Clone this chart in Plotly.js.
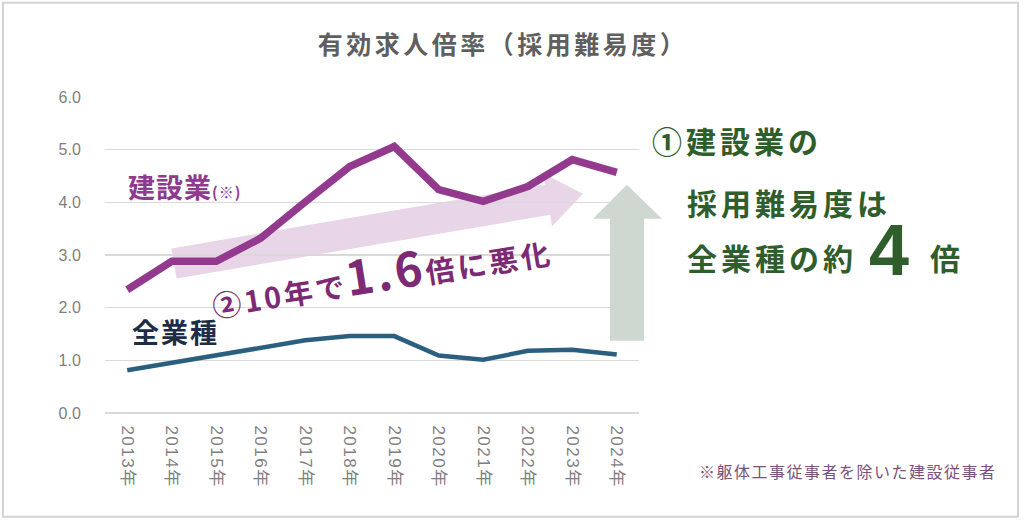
<!DOCTYPE html>
<html>
<head>
<meta charset="utf-8">
<script src="https://cdn.plot.ly/plotly-3.0.1.min.js"></script>
<style>
  html, body { margin: 0; padding: 0; background: #fff; }
  #chart { width: 1024px; height: 523px; }
</style>
</head>
<body>
<div id="chart"></div>
<script>
// ---- data ----
const years = ['2013年','2014年','2015年','2016年','2017年','2018年','2019年','2020年','2021年','2022年','2023年','2024年'];
const construction = [2.34, 2.88, 2.88, 3.32, 4.01, 4.68, 5.06, 4.24, 4.02, 4.30, 4.81, 4.57];
const allIndustries = [0.81, 0.95, 1.09, 1.23, 1.38, 1.46, 1.46, 1.09, 1.01, 1.18, 1.20, 1.11];
const yTicks = [0, 1, 2, 3, 4, 5, 6];

const titleText = '有効求人倍率（採用難易度）';
const constructionLabel = '建設業<span style="font-size:15px">(※)</span>';
const allLabel = '全業種';
const trendText = '②10年で<span style="font-size:47px">1.6</span>倍に悪化';
const msgLine1 = '①建設業の';
const msgLine2 = '採用難易度は';
const msgLine3 = '全業種の約';
const msgBig = '4';
const msgEnd = '倍';
const footnote = '※躯体工事従事者を除いた建設従事者';

// ---- layout geometry (pixels) ----
const W = 1024, H = 523;
const L = 105, R = 639, T = 97.3, B = 413.3;
const fx = x => (x - L) / (R - L);
const fy = y => (B - y) / (B - T);
const pts = arr => arr.map(p => fx(p[0]).toFixed(5) + ',' + fy(p[1]).toFixed(5));
const pathOf = arr => 'M' + pts(arr).join(' L') + ' Z';

// pink trend arrow (rotated)
function trendArrow() {
  const x0 = 174, y0 = 263.8, x1 = 583, y1 = 194;
  const dx = x1 - x0, dy = y1 - y0, len = Math.hypot(dx, dy);
  const u = [dx / len, dy / len], n = [-u[1], u[0]];
  const bw = 15.3, hw = 27, hl = 36;
  const P = (s, t) => [x0 + u[0] * s + n[0] * t, y0 + u[1] * s + n[1] * t];
  return pathOf([P(0, -bw), P(len - hl, -bw), P(len - hl, -hw), P(len, 0), P(len - hl, hw), P(len - hl, bw), P(0, bw)]);
}
function upArrow() {
  return pathOf([[610, 341], [610, 219], [593, 219], [627, 185], [662, 219], [644, 219], [644, 341]]);
}

const traces = [
  { x: years, y: construction, type: 'scatter', mode: 'lines',
    line: { color: '#933A8E', width: 7.5 }, hoverinfo: 'skip' },
  { x: years, y: allIndustries, type: 'scatter', mode: 'lines',
    line: { color: '#2B5F80', width: 4.5 }, hoverinfo: 'skip' }
];

const jp = '"Noto Sans CJK JP", "Noto Sans", sans-serif';
const num = '"Liberation Sans", "Noto Sans CJK JP", sans-serif';

const annotations = [
  { text: constructionLabel, x: fx(126), y: fy(187), xanchor: 'left', yanchor: 'middle', align: 'left',
    font: { family: jp, size: 27, color: '#8E3A8E', weight: 'bold' }, ls: 1 },
  { text: allLabel, x: fx(130), y: fy(332), xanchor: 'left', yanchor: 'middle', align: 'left',
    font: { family: jp, size: 27, color: '#1E2D46', weight: 'bold' }, ls: 2 },
  { text: trendText, x: fx(381), y: fy(271), xanchor: 'center', yanchor: 'middle', textangle: -9,
    font: { family: jp, size: 29, color: '#7B2A73', weight: 'bold' }, ls: 3 },
  { text: msgLine1, x: fx(650), y: fy(140), xanchor: 'left', yanchor: 'middle', align: 'left',
    font: { family: jp, size: 30, color: '#2F5D2B', weight: 'bold' }, ls: 4 },
  { text: msgLine2, x: fx(685), y: fy(202), xanchor: 'left', yanchor: 'middle', align: 'left',
    font: { family: jp, size: 30, color: '#2F5D2B', weight: 'bold' }, ls: 4 },
  { text: msgLine3, x: fx(685), y: fy(257), xanchor: 'left', yanchor: 'middle', align: 'left',
    font: { family: jp, size: 30, color: '#2F5D2B', weight: 'bold' }, ls: 4 },
  { text: msgBig, x: fx(889), y: fy(250), xanchor: 'center', yanchor: 'middle',
    font: { family: num, size: 72, color: '#2F5D2B', weight: 'bold' }, ls: 0 },
  { text: msgEnd, x: fx(945), y: fy(257), xanchor: 'center', yanchor: 'middle',
    font: { family: jp, size: 30, color: '#2F5D2B', weight: 'bold' }, ls: 0 },
  { text: footnote, x: fx(697), y: fy(471), xanchor: 'left', yanchor: 'middle', align: 'left',
    font: { family: jp, size: 16, color: '#7A527A' }, ls: 1.5 }
];
const spacings = annotations.map(a => a.ls);
annotations.forEach(a => { delete a.ls; a.xref = 'paper'; a.yref = 'paper'; a.showarrow = false; });

const layout = {
  width: W, height: H,
  margin: { l: L, r: W - R, t: T, b: H - B, pad: 0 },
  paper_bgcolor: '#ffffff', plot_bgcolor: '#ffffff',
  showlegend: false,
  title: { text: titleText, x: 503 / W, xanchor: 'center', xref: 'container', y: 1 - 45 / H, yanchor: 'middle', yref: 'container',
           font: { family: jp, size: 25, color: '#5F5F5F', weight: 'bold' } },
  xaxis: { type: 'category', range: [-0.5, years.length - 0.5], tickangle: 90, showgrid: false, showline: false, zeroline: false,
           ticks: 'outside', ticklen: 8, tickcolor: 'rgba(0,0,0,0)',
           tickfont: { family: num, size: 17, color: '#7F7F7F' }, fixedrange: true },
  yaxis: { range: [0, 6], tickvals: yTicks, tickformat: '.1f', showgrid: true, gridcolor: '#D9D9D9', gridwidth: 1.5,
           zeroline: true, zerolinecolor: '#D9D9D9', zerolinewidth: 1.5, showline: false,
           ticks: 'outside', ticklen: 20, tickcolor: 'rgba(0,0,0,0)',
           tickfont: { family: num, size: 16, color: '#7F7F7F' }, fixedrange: true },
  shapes: [
    { type: 'path', path: trendArrow(), xref: 'paper', yref: 'paper', layer: 'below',
      fillcolor: '#E8D5E8', line: { width: 0 } },
    { type: 'path', path: upArrow(), xref: 'paper', yref: 'paper', layer: 'above',
      fillcolor: '#CFD8D0', line: { width: 0 } },
    { type: 'rect', xref: 'paper', yref: 'paper', x0: fx(3), x1: fx(1018), y0: fy(3), y1: fy(517),
      layer: 'above', fillcolor: 'rgba(0,0,0,0)', line: { color: '#D4D4D4', width: 2 } }
  ],
  annotations: annotations
};

Plotly.newPlot('chart', traces, layout, { displayModeBar: false, staticPlot: true }).then(gd => {
  gd.querySelectorAll('g.annotation').forEach(g => {
    const i = parseInt(g.getAttribute('data-index'), 10);
    if (!isNaN(i) && spacings[i]) {
      g.querySelectorAll('text').forEach(t => t.style.letterSpacing = spacings[i] + 'px');
    }
  });
  gd.querySelectorAll('.gtitle').forEach(t => t.style.letterSpacing = '3.5px');
  gd.querySelectorAll('.xtick text').forEach(t => t.style.letterSpacing = '1.5px');
});
</script>
</body>
</html>
